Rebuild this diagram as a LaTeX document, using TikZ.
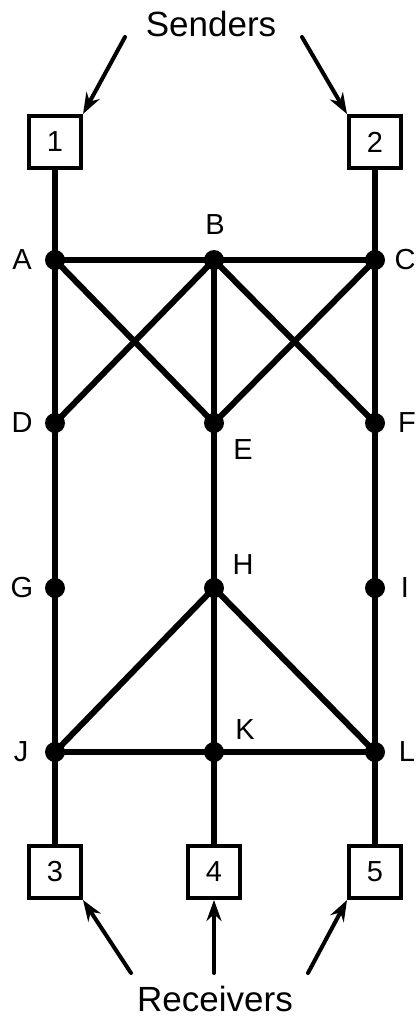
\documentclass[tikz,border=0pt]{standalone}
\usepackage{fontspec}
\setmainfont{Liberation Sans}
\usetikzlibrary{arrows.meta}

\begin{document}
\begin{tikzpicture}[x=1pt,y=-1pt,>={Stealth[length=21pt,width=15pt]},line cap=round,
  dot/.style={circle,fill,inner sep=0pt,minimum size=20pt},
  host/.style={draw,line width=4pt,minimum size=52pt,inner sep=0pt,font=\fontsize{29}{31}\selectfont},
  link/.style={line width=6pt},
  tag/.style={font=\fontsize{29}{31}\selectfont},
  title/.style={anchor=base,inner sep=0pt,font=\fontsize{35}{37}\selectfont},
  pointer/.style={->,line width=4pt}]
\useasboundingbox (0,0) rectangle (419,1017);
\node[title] (snd) at (211,36) {Senders};
\node[title] (rcv) at (215,1011) {Receivers};
\node[host] (h1) at (55,142) {1};
\node[host] (h2) at (375,142) {2};
\node[host] (h3) at (55,872) {3};
\node[host] (h4) at (214,872) {4};
\node[host] (h5) at (375,872) {5};
\node[dot] (A) at (55,260) {};
\node[dot] (B) at (214,260) {};
\node[dot] (C) at (375,260) {};
\node[dot] (D) at (55,423) {};
\node[dot] (E) at (214,423) {};
\node[dot] (F) at (375,423) {};
\node[dot] (G) at (55,588) {};
\node[dot] (H) at (214,588) {};
\node[dot] (I) at (375,588) {};
\node[dot] (J) at (55,752) {};
\node[dot] (K) at (214,752) {};
\node[dot] (L) at (375,752) {};
\node[tag] (tA) at (22,260) {A};
\node[tag] (tB) at (215,225) {B};
\node[tag] (tC) at (405,260) {C};
\node[tag] (tD) at (22,423) {D};
\node[tag] (tE) at (243,450) {E};
\node[tag] (tF) at (407,423) {F};
\node[tag] (tG) at (22,588) {G};
\node[tag] (tH) at (243,565) {H};
\node[tag] (tI) at (405,588) {I};
\node[tag] (tJ) at (21,752) {J};
\node[tag] (tK) at (245,730) {K};
\node[tag] (tL) at (407,752) {L};
% links
\draw[link] (h1) -- (A.center) -- (D.center) -- (G.center) -- (J.center) -- (h3);
\draw[link] (h2) -- (C.center) -- (F.center) -- (I.center) -- (L.center) -- (h5);
\draw[link] (B.center) -- (E.center) -- (H.center) -- (K.center) -- (h4);
\draw[link] (A.center) -- (B.center) -- (C.center);
\draw[link] (J.center) -- (K.center) -- (L.center);
\draw[link] (A.center) -- (E.center) -- (C.center);
\draw[link] (D.center) -- (B.center) -- (F.center);
\draw[link] (J.center) -- (H.center) -- (L.center);
% arrows
\draw[pointer] (125,37) -- (h1.north east);
\draw[pointer] (302,37) -- (h2.north west);
\draw[pointer] (131,973) -- (h3.south east);
\draw[pointer] (214,973) -- (h4.south);
\draw[pointer] (308,973) -- (h5.south west);
\end{tikzpicture}
\end{document}
